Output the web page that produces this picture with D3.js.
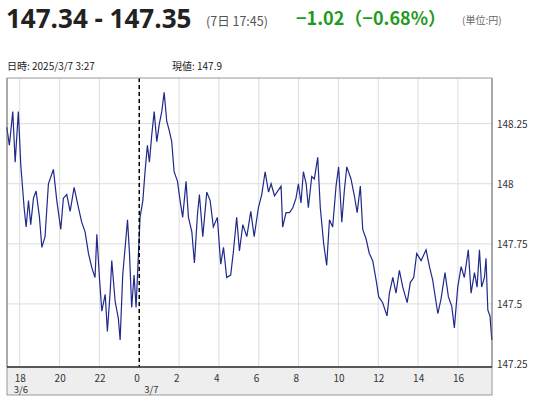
<!DOCTYPE html>
<html><head><meta charset="utf-8">
<script src="https://d3js.org/d3.v7.min.js"></script>
<style>body{margin:0;background:#fff;font-family:"Noto Sans CJK JP","Noto Sans",sans-serif}</style>
</head><body><svg id="c" width="542" height="400"></svg>
<script>
// hours since 3/6 00:00
const hours = [17.35,17.48,17.65,17.77,17.93,18.05,18.22,18.32,18.44,18.55,18.69,18.82,18.99,19.11,19.27,19.44,19.69,19.86,20.06,20.19,20.36,20.53,20.73,20.95,21.11,21.28,21.45,21.62,21.78,21.87,22.00,22.12,22.29,22.40,22.54,22.62,22.79,22.95,23.04,23.17,23.29,23.41,23.51,23.62,23.74,23.84,23.96,24.04,24.18,24.29,24.41,24.51,24.63,24.75,24.88,25.01,25.13,25.25,25.38,25.51,25.63,25.75,25.92,26.05,26.18,26.35,26.47,26.64,26.77,26.92,27.02,27.19,27.39,27.56,27.72,27.92,28.09,28.23,28.39,28.59,28.73,28.89,29.03,29.20,29.40,29.60,29.77,29.98,30.15,30.32,30.49,30.62,
  30.79,31.12,31.20,31.37,31.54,31.71,31.87,31.99,32.12,32.24,32.38,32.49,32.66,32.79,32.96,33.09,33.26,33.41,33.55,33.71,33.88,34.01,34.17,34.30,34.42,34.63,34.80,34.94,35.10,35.22,35.39,35.55,35.72,35.89,36.02,36.22,36.44,36.56,36.73,36.89,37.06,37.23,37.45,37.61,37.78,37.93,38.15,38.40,38.57,38.73,38.99,39.15,39.35,39.52,39.69,39.82,39.99,40.16,40.32,40.52,40.66,40.83,40.96,41.08,41.19,41.33,41.41,41.50,41.61,41.70];
const prices = [148.235,148.16,148.30,148.09,148.30,148.08,147.90,147.82,147.93,147.83,147.94,147.97,147.86,147.735,147.78,148.00,148.06,147.93,147.81,147.94,147.955,147.885,147.985,147.90,147.84,147.80,147.71,147.65,147.61,147.79,147.61,147.47,147.54,147.385,147.55,147.68,147.51,147.44,147.35,147.62,147.735,147.85,147.71,147.485,147.62,147.485,147.71,147.86,147.93,148.05,148.16,148.09,148.205,148.30,148.175,148.25,148.30,148.38,148.26,148.22,148.175,148.05,148.01,147.93,147.86,148.01,147.86,147.80,147.67,147.87,147.955,147.78,147.965,147.93,147.82,147.86,147.665,147.735,147.61,147.62,147.72,147.86,147.72,147.83,147.78,147.885,147.78,147.90,147.955,148.05,147.965,148.00,
  147.95,147.99,147.82,147.88,147.88,147.90,147.94,148.00,147.92,148.05,148.00,147.90,148.03,148.02,148.11,147.90,147.75,147.66,147.85,147.82,147.99,148.07,147.84,147.975,148.07,148.02,147.95,147.88,147.99,147.81,147.77,147.71,147.68,147.60,147.53,147.505,147.45,147.545,147.61,147.545,147.64,147.57,147.505,147.59,147.61,147.71,147.68,147.725,147.655,147.60,147.46,147.52,147.63,147.53,147.49,147.40,147.57,147.655,147.61,147.725,147.545,147.63,147.57,147.725,147.57,147.61,147.69,147.475,147.45,147.35];
const yTicks = [147.25,147.5,147.75,148,148.25];
const yTickLabels = ["147.25","147.5","147.75","148","148.25"];
const xTicks = [18,20,22,24,26,28,30,32,34,36,38,40];
const xTickLabels = ["18","20","22","0","2","4","6","8","10","12","14","16"];

const svg = d3.select("#c");
const L = 7, R = 492, T = 78, B = 367;
const x = d3.scaleLinear().domain([17.36, 41.71]).range([L, R]);
const y = d3.scaleLinear().domain([147.2375, 148.44]).range([B, T]);

// header
svg.append("text").attr("x", 6).attr("y", 28).text("147.34 - 147.35")
  .attr("font-size", 26).attr("font-weight", "bold").attr("fill", "#222")
  .attr("font-family", "'Open Sans',sans-serif");
svg.append("text").attr("x", 206).attr("y", 26).text("(7日 17:45)").attr("font-size", 12.5).attr("fill", "#555");
svg.append("text").attr("x", 296).attr("y", 25).text("−1.02（−0.68%）")
  .attr("font-size", 18).attr("font-weight", "bold").attr("fill", "#1e9a1e");
svg.append("text").attr("x", 462).attr("y", 24).text("(単位:円)").attr("font-size", 10).attr("fill", "#666");
svg.append("text").attr("x", 7).attr("y", 70).text("日時: 2025/3/7  3:27").attr("font-size", 10).attr("fill", "#222");
svg.append("text").attr("x", 172).attr("y", 70).text("現値: 147.9").attr("font-size", 10).attr("fill", "#222");

// grid
svg.append("g").selectAll("line").data(xTicks).join("line")
  .attr("x1", d => x(d)).attr("x2", d => x(d)).attr("y1", T).attr("y2", B)
  .attr("stroke", "#ddd");
svg.append("g").selectAll("line").data(yTicks.slice(1)).join("line")
  .attr("x1", L).attr("x2", R).attr("y1", d => y(d)).attr("y2", d => y(d))
  .attr("stroke", "#ddd");

// x axis band
svg.append("rect").attr("x", L).attr("y", B).attr("width", R - L).attr("height", 28)
  .attr("fill", "#eee").attr("stroke", "#999");
svg.append("g").selectAll("text").data(xTicks).join("text")
  .attr("x", d => x(d) - 5).attr("y", 382).text((d, i) => xTickLabels[i])
  .attr("font-size", 10).attr("fill", "#333");
svg.append("text").attr("x", x(18) - 6).attr("y", 393).text("3/6").attr("font-size", 9.5).attr("fill", "#333");
svg.append("text").attr("x", x(24) + 5).attr("y", 393).text("3/7").attr("font-size", 9.5).attr("fill", "#333");

// y labels
svg.append("g").selectAll("text").data(yTicks).join("text")
  .attr("x", R + 5).attr("y", d => y(d) + 4).text((d, i) => yTickLabels[i])
  .attr("font-size", 10).attr("fill", "#333");

// line
svg.append("path").datum(hours.map((t, i) => [t, prices[i]]))
  .attr("d", d3.line().x(d => x(d[0])).y(d => y(d[1])))
  .attr("fill", "none").attr("stroke", "#1f2a8a").attr("stroke-width", 1.2);

// day divider
svg.append("line").attr("x1", x(24)).attr("x2", x(24)).attr("y1", T).attr("y2", B)
  .attr("stroke", "#000").attr("stroke-width", 1.5).attr("stroke-dasharray", "4,3");

// frame
svg.append("line").attr("x1", L).attr("x2", L).attr("y1", T).attr("y2", B).attr("stroke", "#555");
svg.append("line").attr("x1", R).attr("x2", R).attr("y1", T).attr("y2", B).attr("stroke", "#555");
svg.append("line").attr("x1", L).attr("x2", R).attr("y1", T).attr("y2", T).attr("stroke", "#999");
svg.append("line").attr("x1", L).attr("x2", R).attr("y1", B).attr("y2", B).attr("stroke", "#333").attr("stroke-width", 1.5);
</script></body></html>
